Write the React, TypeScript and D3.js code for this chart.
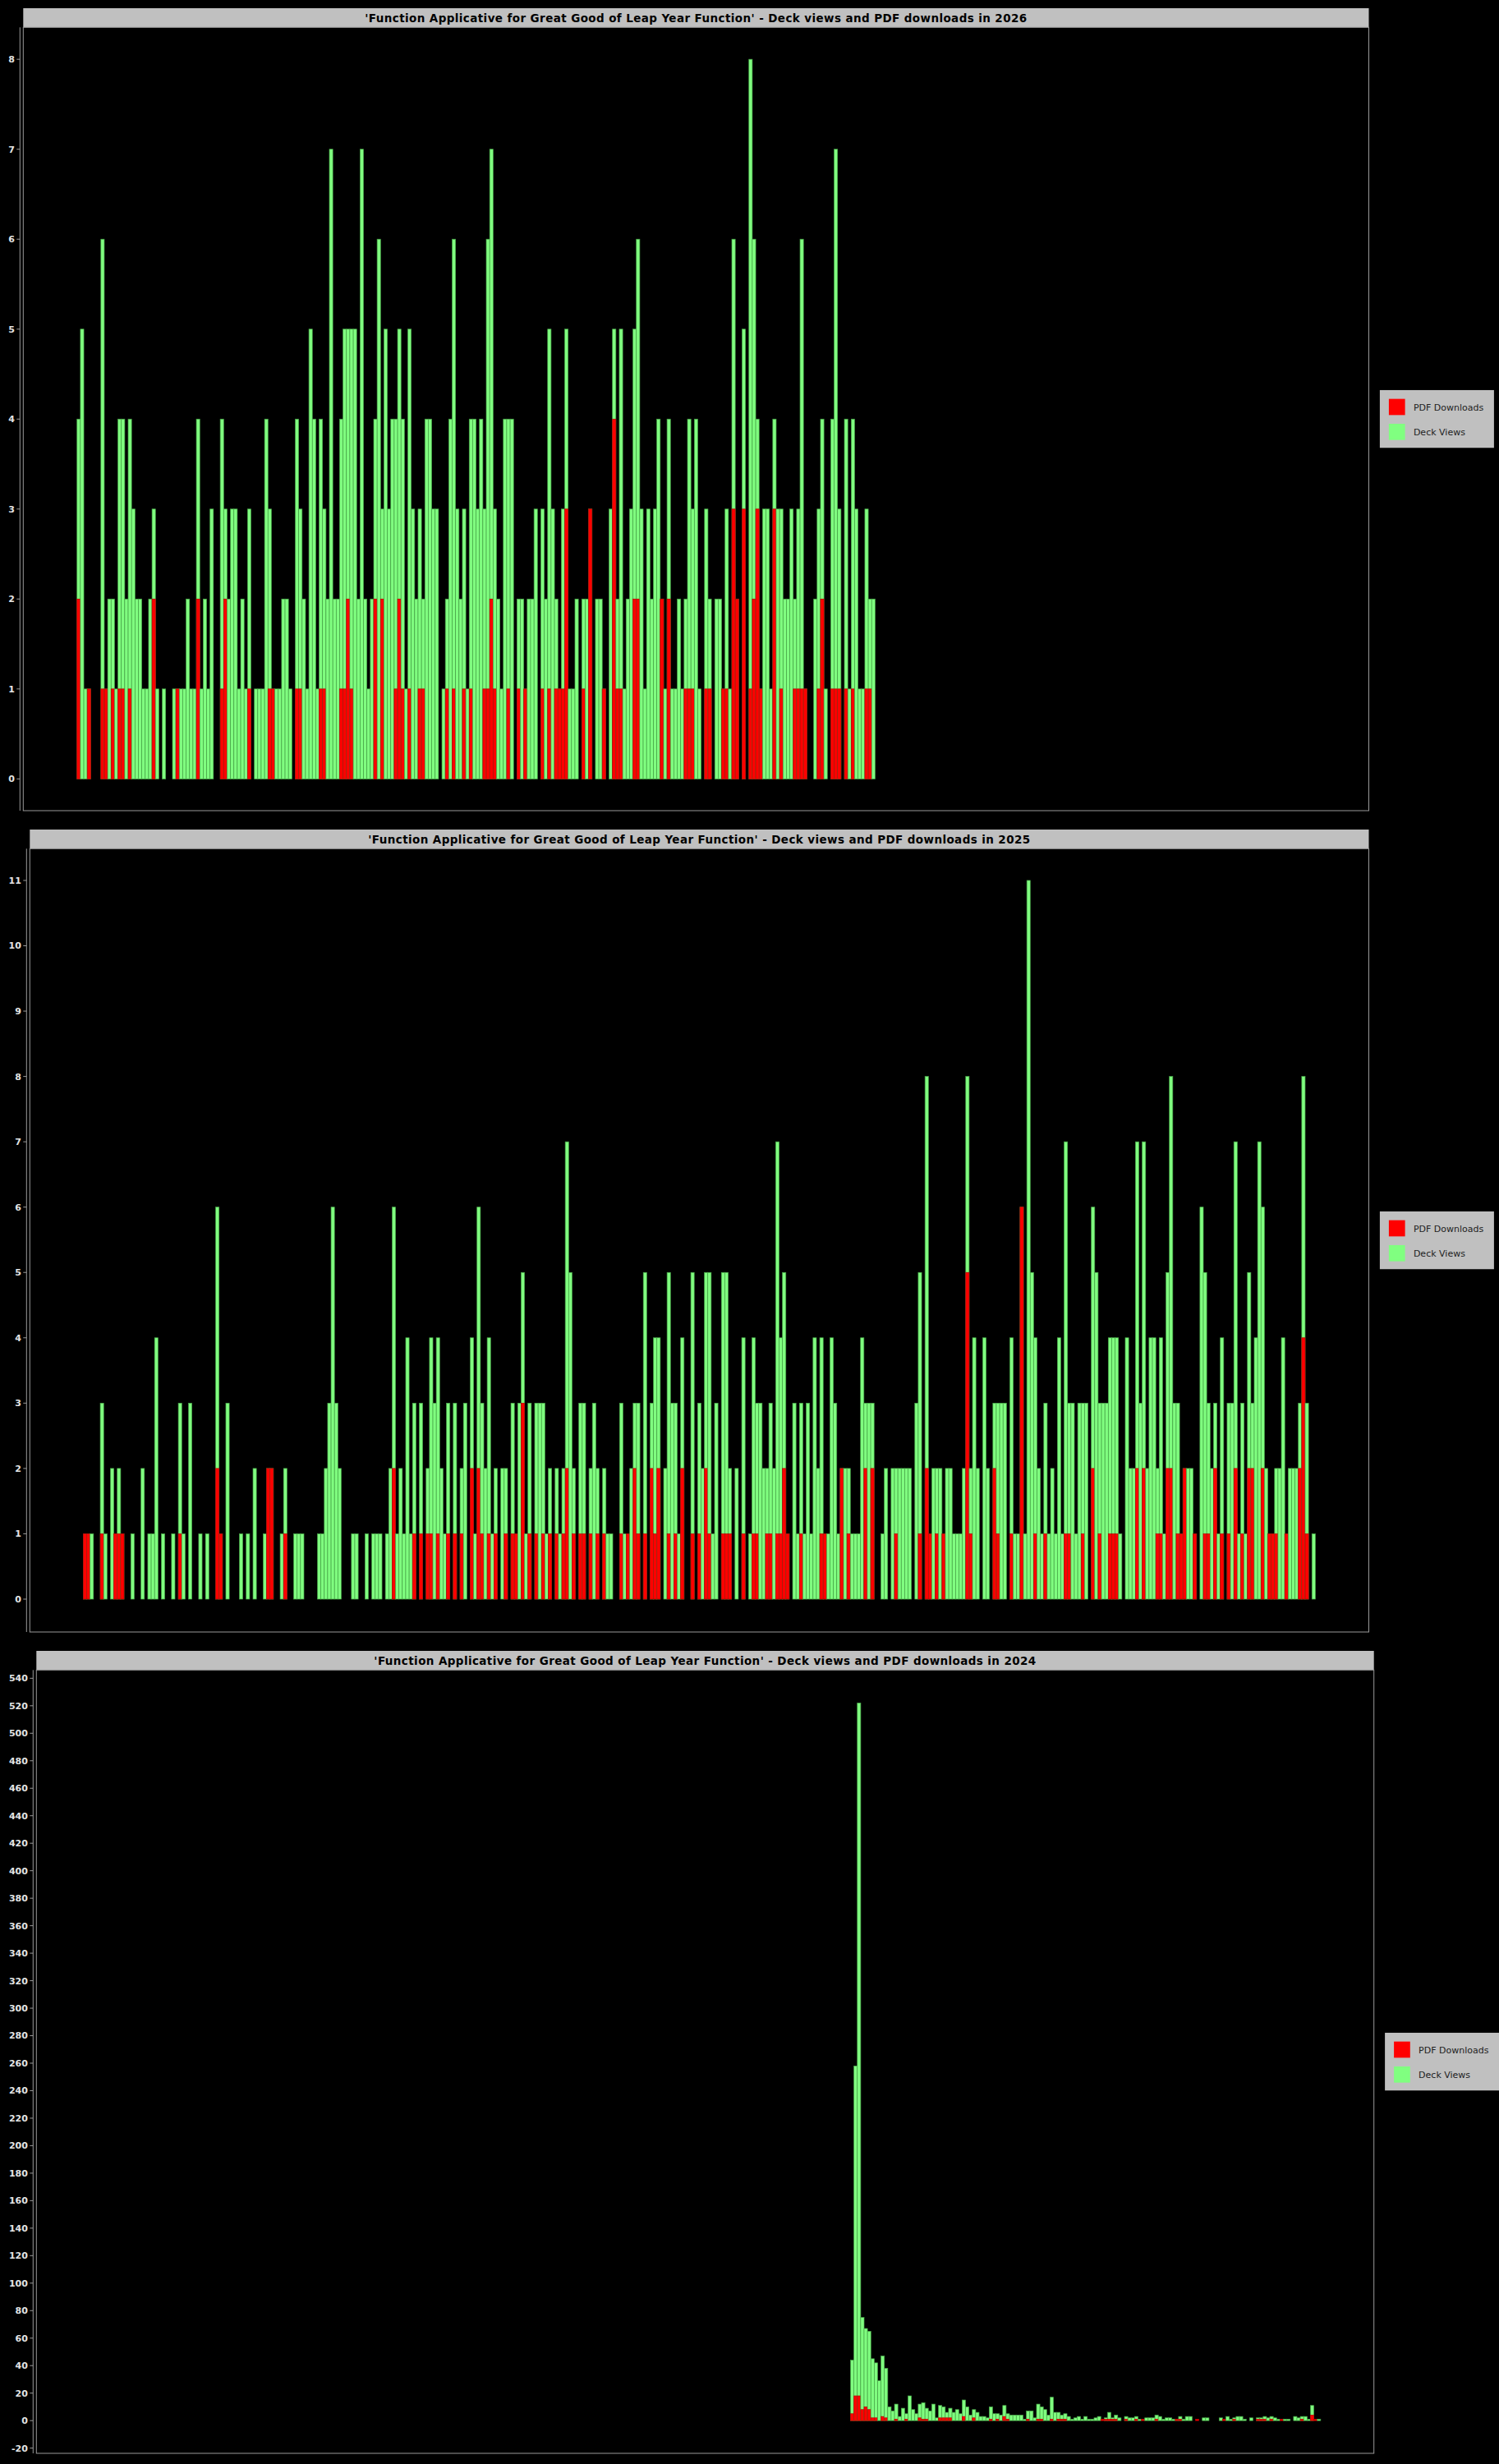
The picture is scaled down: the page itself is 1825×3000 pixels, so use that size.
import React, { useLayoutEffect } from "react";
import * as d3 from "d3";

// ---------------- DATA ----------------
const seriesNames = ["PDF Downloads", "Deck Views"];
const years = [2026, 2025, 2024];
const titlePrefix = "'Function Applicative for Great Good of Leap Year Function' - Deck views and PDF downloads in ";

// 2026: daily values starting Jan 1 (day index 0)
const start2026 = 0;
const views2026 = [
  4,5,1,1,0,0,0,6,1,2, 2,1,4,4,2,4,3,2,2,1, 1,2,3,1,0,1,0,0,1,1, 1,1,2,1,1,4,1,2,1,3,
  0,0,4,3,2,3,3,1,2,1, 3,0,1,1,1,4,3,1,1,1, 2,2,1,0,4,3,2,1,5,4, 1,4,3,2,7,2,2,4,5,5,
  5,5,2,7,2,1,2,4,6,3, 5,3,4,4,5,4,1,5,3,2, 3,2,4,4,3,3,0,1,2,4, 6,3,2,3,1,4,4,3,4,3,
  6,7,3,2,1,4,4,4,0,2, 2,1,2,2,3,0,3,2,5,3, 2,1,3,5,1,1,2,0,2,2, 3,0,2,2,1,0,3,5,2,5,
  1,2,3,5,6,3,1,3,2,3, 4,2,1,4,1,1,2,1,2,4, 3,4,1,0,3,2,0,2,2,1, 3,1,6,2,0,5,0,8,6,4,
  1,3,3,1,4,3,3,2,2,3, 2,3,6,1,0,0,2,3,4,1, 0,4,7,3,0,4,1,4,3,1, 1,3,2,2,
];
const pdf2026 = [
  2,0,0,1,0,0,0,1,1,0, 1,0,1,1,0,1,0,0,0,0, 0,0,2,0,0,0,0,0,0,1, 0,0,0,0,0,2,0,0,0,0,
  0,0,1,2,0,0,0,0,0,0, 1,0,0,0,0,0,1,1,0,0, 0,0,0,0,1,1,0,0,0,0, 0,1,1,0,0,0,0,1,1,2,
  1,0,0,0,0,0,0,2,0,2, 0,0,0,1,2,1,0,1,0,0, 1,1,0,0,0,0,0,0,1,0, 1,0,0,1,0,1,0,0,0,1,
  1,2,1,0,0,0,1,0,0,1, 0,1,0,0,0,0,1,0,1,0, 1,1,1,3,0,0,0,0,1,0, 3,0,0,0,1,0,0,4,1,1,
  0,0,0,2,2,0,0,0,0,0, 0,2,0,2,0,0,0,0,1,1, 1,0,0,0,1,1,0,0,0,1, 1,0,3,2,0,3,0,1,2,3,
  1,0,0,0,3,0,1,0,0,0, 1,1,1,1,0,0,0,1,2,0, 0,1,1,1,0,1,0,1,0,0, 0,1,1,0,
];

// 2025: daily values starting Jan 1 (day index 0)
const start2025 = 0;
const views2025 = [
  1,1,1,0,0,3,1,0,2,1, 2,1,0,0,1,0,0,2,0,1, 1,4,0,1,0,0,1,0,3,1, 0,3,0,0,1,0,1,0,0,6,
  1,0,3,0,0,0,1,0,1,0, 2,0,0,1,2,2,0,0,1,2, 0,0,1,1,1,0,0,0,0,1, 1,2,3,6,3,2,0,0,0,1,
  1,0,0,1,0,1,1,1,0,1, 2,6,1,2,1,4,1,3,0,3, 0,2,4,3,4,2,1,3,0,3, 0,2,3,0,4,1,6,3,2,4,
  1,2,0,2,2,0,3,1,3,5, 1,3,0,3,3,3,1,2,0,2, 1,2,7,5,2,0,3,3,0,2, 3,2,0,2,1,1,0,0,3,1,
  1,2,3,3,0,5,0,3,4,4, 0,2,5,3,3,1,4,0,0,5, 0,3,2,5,5,1,3,0,5,5, 2,0,2,0,4,0,1,4,3,3,
  2,2,3,2,7,4,5,1,0,3, 1,3,1,3,1,4,2,4,1,1, 4,3,1,2,2,2,1,1,1,4, 3,3,3,0,0,1,2,0,2,2,
  2,2,2,2,0,3,5,0,8,1, 2,2,2,1,2,2,1,1,1,2, 8,2,4,2,0,4,2,0,3,3, 3,3,0,4,1,1,6,1,11,5,
  4,2,1,3,1,2,1,4,1,7, 3,3,1,3,3,3,0,6,5,3, 3,3,4,4,4,1,0,4,2,2, 7,3,7,2,4,4,2,4,1,5,
  8,3,3,1,2,2,2,1,0,6, 5,3,2,3,1,4,0,3,3,7, 1,3,1,5,3,4,7,6,2,1, 1,2,2,4,1,2,2,2,3,8,
  3,0,1,
];
const pdf2025 = [
  1,1,0,0,0,1,0,0,0,1, 1,1,0,0,0,0,0,0,0,0, 0,0,0,0,0,0,0,0,1,0, 0,0,0,0,0,0,0,0,0,2,
  1,0,0,0,0,0,0,0,0,0, 0,0,0,0,2,2,0,0,0,1, 0,0,0,0,0,0,0,0,0,0, 0,0,0,0,0,0,0,0,0,0,
  0,0,0,0,0,0,0,0,0,0, 0,2,0,0,0,0,0,1,0,1, 0,1,1,0,1,0,0,1,0,1, 0,1,0,0,2,0,2,1,0,1,
  0,1,0,0,1,0,1,1,0,3, 0,1,0,1,0,1,0,1,0,1, 0,1,2,0,1,0,1,1,0,1, 0,1,0,1,0,0,0,0,1,0,
  1,0,2,1,0,1,0,2,1,2, 0,0,1,0,1,0,2,0,0,1, 0,1,0,2,1,0,0,0,1,1, 1,0,0,0,1,0,0,1,1,0,
  0,1,1,0,1,1,2,1,0,0, 0,1,0,0,0,0,0,1,1,0, 0,0,0,2,0,1,0,0,0,0, 2,0,2,0,0,0,0,0,0,1,
  0,0,0,0,0,0,1,0,2,1, 0,1,0,1,0,0,0,0,0,0, 5,1,0,0,0,0,0,0,2,1, 0,0,0,1,0,0,6,0,0,0,
  1,0,0,1,0,0,0,0,0,1, 1,0,0,0,1,0,0,2,0,1, 0,0,1,1,1,0,0,0,0,0, 2,0,2,0,0,0,1,1,0,2,
  2,0,1,1,2,0,0,1,0,0, 1,1,0,2,0,1,0,1,0,2, 0,1,0,2,2,0,0,2,0,1, 1,1,0,0,1,0,0,0,2,4,
  1,0,0,
];

// 2024: daily values starting at day index 225 (mid-August)
const start2024 = 225;
const views2024 = [
  44,258,522,75,67,65,45,42,29,47, 38,10,7,12,3,9,5,18,8,5, 12,13,9,7,12,2,11,10,6,9,
  6,8,5,15,10,4,8,6,3,3, 2,10,5,5,4,11,5,4,4,4, 4,1,7,7,2,12,10,8,4,17,
  6,6,4,5,3,1,2,3,1,3, 1,1,2,3,0,2,6,2,4,2, 0,3,2,2,3,1,0,2,2,2,
  4,3,1,2,2,1,1,3,1,3, 3,0,0,0,2,2,0,0,0,2, 0,3,1,2,3,3,1,0,2,0,
  2,2,3,2,3,2,1,0,1,1, 0,3,2,3,3,1,11,0,1,
];
const pdf2024 = [
  5,18,18,8,10,8,2,2,0,3, 2,0,0,1,0,0,1,0,0,0, 2,1,1,0,0,0,2,2,2,2,
  0,0,0,3,0,0,2,0,0,0, 0,1,0,1,0,3,1,0,0,0, 0,0,1,0,0,1,1,0,0,1,
  0,1,1,1,0,0,0,0,0,0, 0,0,0,0,1,1,1,1,1,0, 0,1,0,0,1,0,1,0,0,0,
  1,0,0,0,0,0,1,1,0,0, 0,0,1,0,0,0,0,0,0,0, 1,0,0,1,0,0,0,0,0,0,
  1,1,1,0,1,0,0,1,0,0, 0,0,0,1,0,0,4,1,0,
];

const ticks2026 = [0, 1, 2, 3, 4, 5, 6, 7, 8];
const ticks2025 = [0, 1, 2, 3, 4, 5, 6, 7, 8, 9, 10, 11];
const ticks2024 = [
  -20, 0, 20, 40, 60, 80, 100, 120, 140, 160, 180, 200, 220, 240, 260, 280, 300, 320, 340,
  360, 380, 400, 420, 440, 460, 480, 500, 520, 540,
];

// ---------------- LAYOUT ----------------
const W = 1825;
const H = 3000;
const FONT = "'DejaVu Sans', Verdana, sans-serif";
const GREEN = "#80FF80";
const RED = "#FF0000";

type ChartCfg = {
  year: number;
  offsetY: number;
  plotLeft: number;
  plotRight: number;
  yDomain: [number, number];
  ticks: number[];
  views: number[];
  pdf: number[];
  start: number;
  nDays: number;
};

const charts: ChartCfg[] = [
  { year: years[0], offsetY: 0, plotLeft: 28.3, plotRight: 1666.5, yDomain: [-0.353, 8.355], ticks: ticks2026, views: views2026, pdf: pdf2026, start: start2026, nDays: 365 },
  { year: years[1], offsetY: 1000, plotLeft: 36.3, plotRight: 1666.5, yDomain: [-0.503, 11.486], ticks: ticks2025, views: views2025, pdf: pdf2025, start: start2025, nDays: 365 },
  { year: years[2], offsetY: 2000, plotLeft: 44.3, plotRight: 1672.7, yDomain: [-23.8, 546], ticks: ticks2024, views: views2024, pdf: pdf2024, start: start2024, nDays: 366 },
];

function Chart({ cfg }: { cfg: ChartCfg }) {
  const top = cfg.offsetY + 33.3;
  const bottom = cfg.offsetY + 987;
  const titleTop = cfg.offsetY + 10;
  const x = d3.scaleLinear().domain([-15.76, cfg.nDays + 13.76]).range([cfg.plotLeft, cfg.plotRight]);
  const y = d3.scaleLinear().domain(cfg.yDomain).range([bottom, top]);
  const axisX = cfg.plotLeft - 4;
  const legendL = cfg.plotRight + 13.4;
  const legendT = (top + bottom) / 2 - 35.2;

  const bars = cfg.views.map((v, i) => {
    const day = cfg.start + i;
    const x0 = x(day);
    const w = x(day + 1) - x0;
    const p = cfg.pdf[i];
    return (
      <g key={i}>
        {v > 0 && (
          <rect x={x0} y={y(v)} width={w} height={y(0) - y(v)} fill={GREEN} stroke="#48a448" strokeWidth={0.7} />
        )}
        {p > 0 && (
          <rect x={x0} y={y(p)} width={w} height={y(0) - y(p)} fill={RED} stroke="#b40000" strokeWidth={0.7} />
        )}
      </g>
    );
  });

  return (
    <g>
      {/* title bar */}
      <rect x={cfg.plotLeft} y={titleTop} width={cfg.plotRight - cfg.plotLeft} height={top - titleTop} fill="#C0C0C0" />
      <text
        x={(cfg.plotLeft + cfg.plotRight) / 2}
        y={titleTop + 16.6}
        textAnchor="middle"
        fontFamily={FONT}
        fontWeight="bold"
        fontSize={13.5}
        letterSpacing={0.4}
        fill="#000"
      >
        {titlePrefix + cfg.year}
      </text>
      {/* bars */}
      <g>{bars}</g>
      {/* plot border */}
      <rect x={cfg.plotLeft} y={top} width={cfg.plotRight - cfg.plotLeft} height={bottom - top} fill="none" stroke="#9a9a9a" strokeWidth={1} />
      {/* y axis */}
      <line x1={axisX} x2={axisX} y1={top} y2={bottom} stroke="#9a9a9a" strokeWidth={1} />
      {cfg.ticks.map((t) => (
        <g key={t}>
          <line x1={axisX - 4} x2={axisX} y1={y(t)} y2={y(t)} stroke="#9a9a9a" strokeWidth={1} />
          <text
            x={axisX - 6.4}
            y={y(t)}
            dy="0.36em"
            textAnchor="end"
            fontFamily={FONT}
            fontWeight="bold"
            fontSize={11}
            fill="#e4e4e4"
          >
            {t}
          </text>
        </g>
      ))}
      {/* legend */}
      <rect x={legendL} y={legendT} width={139} height={70.3} fill="#C0C0C0" />
      <rect x={legendL + 11} y={legendT + 10.7} width={19.7} height={19.7} fill={RED} />
      <text x={legendL + 41} y={legendT + 24.8} fontFamily={FONT} fontSize={11} fill="#222">
        {seriesNames[0]}
      </text>
      <rect x={legendL + 11} y={legendT + 41} width={19.7} height={19.7} fill={GREEN} />
      <text x={legendL + 41} y={legendT + 55} fontFamily={FONT} fontSize={11} fill="#222">
        {seriesNames[1]}
      </text>
    </g>
  );
}

export default function App() {
  useLayoutEffect(() => {
    document.body.style.margin = "0";
    document.body.style.background = "#000";
  }, []);
  return (
    <div style={{ width: W, height: H, background: "#000" }}>
      <svg width={W} height={H} viewBox={`0 0 ${W} ${H}`} style={{ display: "block", background: "#000" }}>
        <rect x={0} y={0} width={W} height={H} fill="#000" />
        {charts.map((c) => (
          <Chart key={c.year} cfg={c} />
        ))}
      </svg>
    </div>
  );
}
